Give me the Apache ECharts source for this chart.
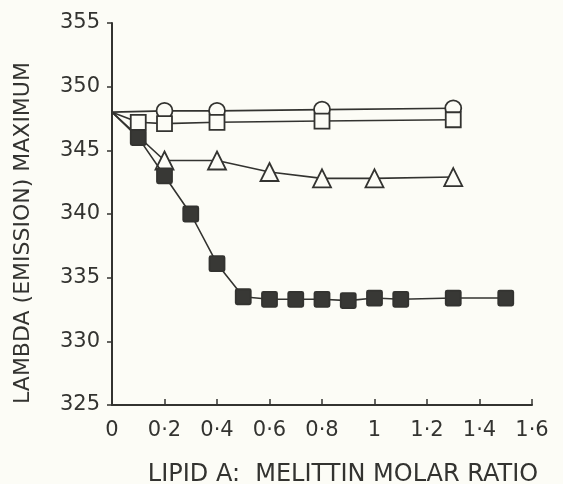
<!DOCTYPE html>
<html>
<head>
<meta charset="utf-8">
<script src="https://cdn.jsdelivr.net/npm/echarts@6/dist/echarts.min.js"></script>
<style>
html,body{margin:0;padding:0;background:#fcfcf6;}
#chart{width:563px;height:484px;}
</style>
</head>
<body>
<div id="chart"></div>
<script>
// Data
var circleX = [0, 0.2, 0.4, 0.8, 1.3];
var circleY = [348, 348.1, 348.1, 348.2, 348.3];
var openSqX = [0, 0.1, 0.2, 0.4, 0.8, 1.3];
var openSqY = [348, 347.2, 347.1, 347.2, 347.3, 347.4];
var triX = [0, 0.2, 0.4, 0.6, 0.8, 1.0, 1.3];
var triY = [348, 344.2, 344.2, 343.3, 342.8, 342.8, 342.9];
var fillSqX = [0, 0.1, 0.2, 0.3, 0.4, 0.5, 0.6, 0.7, 0.8, 0.9, 1.0, 1.1, 1.3, 1.5];
var fillSqY = [348, 346, 343, 340, 336.1, 333.5, 333.3, 333.3, 333.3, 333.2, 333.4, 333.3, 333.4, 333.4];
var yTitle = 'LAMBDA (EMISSION) MAXIMUM';
var xTitle = 'LIPID A:  MELITTIN MOLAR RATIO';

var ink = '#333330';
var bg = '#fcfcf6';
var font = 'DejaVu Sans';

function pairs(xs, ys) {
  return xs.map(function (x, i) {
    var d = { value: [x, ys[i]] };
    if (x === 0) { d.symbol = 'none'; }
    return d;
  });
}

function series(xs, ys, symbol, size, filled) {
  return {
    type: 'line',
    data: pairs(xs, ys),
    symbol: symbol,
    symbolSize: size,
    showAllSymbol: true,
    lineStyle: { color: ink, width: 1.6 },
    itemStyle: { color: filled ? '#383835' : bg, borderColor: ink, borderWidth: 1.8 },
    emphasis: { disabled: true },
    animation: false,
    z: filled ? 3 : 2
  };
}

var softSquare = 'path://M2,0 L18,0 Q20,0 20,2 L20,18 Q20,20 18,20 L2,20 Q0,20 0,18 L0,2 Q0,0 2,0 Z';

var chart = echarts.init(document.getElementById('chart'));
chart.setOption({
  backgroundColor: bg,
  animation: false,
  grid: { left: 112, right: 31, top: 23, bottom: 79 },
  textStyle: { fontFamily: font },
  xAxis: {
    type: 'value', min: 0, max: 1.6, interval: 0.2,
    axisLine: { lineStyle: { color: ink, width: 2 } },
    axisTick: { inside: true, length: 6, lineStyle: { color: ink, width: 1.5 } },
    splitLine: { show: false },
    axisLabel: {
      color: ink, fontSize: 21, margin: 15, fontFamily: font,
      formatter: function (v) { return String(Math.round(v * 10) / 10).replace('.', '·'); }
    }
  },
  yAxis: {
    type: 'value', min: 325, max: 355, interval: 5,
    axisLine: { lineStyle: { color: ink, width: 2 } },
    axisTick: { inside: false, length: 5, lineStyle: { color: ink, width: 1.5 } },
    splitLine: { show: false },
    axisLabel: { color: ink, fontSize: 21, margin: 12, fontFamily: font }
  },
  graphic: [
    {
      type: 'text', x: 23, y: 233, rotation: Math.PI / 2,
      style: { text: yTitle, fill: ink, font: '22px "DejaVu Sans"', align: 'center', verticalAlign: 'middle' }
    },
    {
      type: 'text', x: 343, y: 475,
      style: { text: xTitle, fill: ink, font: '24px "DejaVu Sans"', align: 'center', verticalAlign: 'middle' }
    }
  ],
  series: [
    series(circleX, circleY, 'circle', 16, false),
    series(openSqX, openSqY, 'rect', 15, false),
    series(triX, triY, 'triangle', 18, false),
    series(fillSqX, fillSqY, softSquare, 15, true)
  ]
});
</script>
</body>
</html>
